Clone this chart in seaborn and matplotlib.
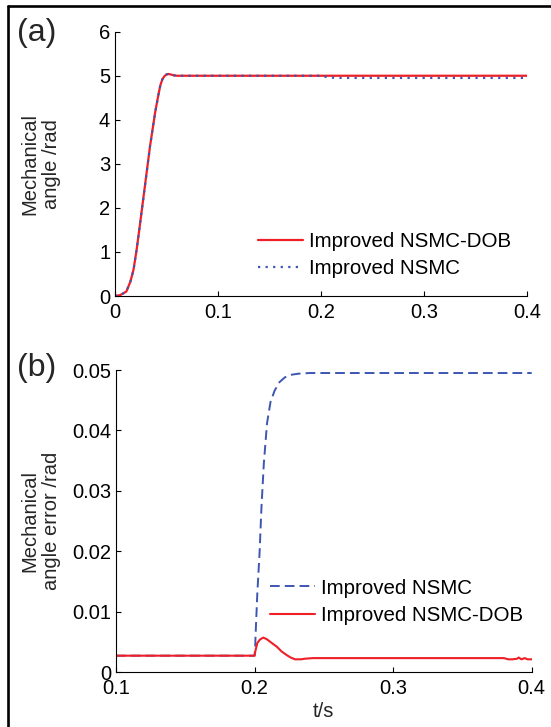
import numpy as np
import pandas as pd
import matplotlib
matplotlib.use("Agg")
import matplotlib.pyplot as plt
from matplotlib.lines import Line2D
import seaborn as sns

# ---------------- data ----------------
# (a) mechanical angle
t_a = [0.0, 0.005, 0.011, 0.015, 0.018, 0.021, 0.024, 0.029, 0.034, 0.039, 0.042,
       0.044, 0.046, 0.048, 0.050, 0.052, 0.054, 0.057, 0.060, 0.10, 0.20, 0.203,
       0.206, 0.210, 0.215, 0.22, 0.23, 0.30, 0.40]
angle_dob = [0.0, 0.02, 0.10, 0.33, 0.60, 1.05, 1.58, 2.49, 3.40, 4.17, 4.55,
             4.78, 4.92, 4.99, 5.03, 5.04, 5.03, 5.01, 5.00, 5.00, 5.00, 5.00,
             5.00, 5.00, 5.00, 5.00, 5.00, 5.00, 5.00]
angle_nsmc = [0.0, 0.02, 0.10, 0.33, 0.60, 1.05, 1.58, 2.49, 3.40, 4.17, 4.55,
              4.78, 4.92, 4.99, 5.03, 5.04, 5.03, 5.01, 5.00, 5.00, 5.00, 4.985,
              4.966, 4.957, 4.953, 4.951, 4.950, 4.950, 4.950]

# (b) mechanical angle error
t_b_nsmc = [0.10, 0.20, 0.2004, 0.2008, 0.202, 0.2036, 0.205, 0.2067, 0.209,
            0.2115, 0.2145, 0.218, 0.222, 0.226, 0.232, 0.24, 0.30, 0.40]
err_nsmc = [0.0027, 0.0027, 0.0040, 0.0065, 0.0131, 0.0197, 0.0274, 0.0346, 0.0412,
            0.0447, 0.0466, 0.0480, 0.0488, 0.0492, 0.0494, 0.0495, 0.0495, 0.0495]
t_b_dob = [0.10, 0.20, 0.2005, 0.202, 0.204, 0.2064, 0.209, 0.213, 0.216, 0.2195,
           0.2232, 0.226, 0.2292, 0.2335, 0.2363, 0.2422, 0.30, 0.380, 0.383,
           0.386, 0.3895, 0.3906, 0.3926, 0.395, 0.397, 0.40]
err_dob = [0.0027, 0.0027, 0.0034, 0.0048, 0.0054, 0.0057, 0.0054, 0.0047, 0.0042,
           0.0034, 0.0028, 0.0024, 0.0021, 0.0021, 0.0022, 0.0023, 0.0023, 0.0023,
           0.0021, 0.0021, 0.0022, 0.0024, 0.0021, 0.0023, 0.0021, 0.0021]

label_dob = "Improved NSMC-DOB"
label_nsmc = "Improved NSMC"
yticks_a = [0, 1, 2, 3, 4, 5, 6]
xticks_a = [0, 0.1, 0.2, 0.3, 0.4]
xtick_labels_a = ["0", "0.1", "0.2", "0.3", "0.4"]
yticks_b = [0, 0.01, 0.02, 0.03, 0.04, 0.05]
ytick_labels_b = ["0", "0.01", "0.02", "0.03", "0.04", "0.05"]
xticks_b = [0.1, 0.2, 0.3, 0.4]
xtick_labels_b = ["0.1", "0.2", "0.3", "0.4"]

RED = "#ee1f26"
BLUE = "#3d56b2"

# ---------------- style ----------------
sns.set_theme(style="ticks")
plt.rcParams["font.family"] = ["Liberation Sans", "DejaVu Sans"]
plt.rcParams["axes.linewidth"] = 0.8
plt.rcParams["axes.edgecolor"] = "black"

W, H = 551, 727
fig = plt.figure(figsize=(W / 100, H / 100), dpi=100)

def frac_axes(l, r, t, b):
    return fig.add_axes([l / W, 1 - b / H, (r - l) / W, (b - t) / H])

ax1 = frac_axes(115, 527, 31.7, 296)
ax2 = frac_axes(116, 531.7, 370, 672)

df_a_dob = pd.DataFrame({"t": t_a, "v": angle_dob})
df_a_nsmc = pd.DataFrame({"t": t_a, "v": angle_nsmc})
sns.lineplot(data=df_a_dob, x="t", y="v", ax=ax1, color=RED, lw=1.6,
             label=label_dob, estimator=None, sort=False)
sns.lineplot(data=df_a_nsmc, x="t", y="v", ax=ax1, color=BLUE, lw=1.6,
             label=label_nsmc, estimator=None, sort=False)
ax1.lines[1].set_linestyle((0, (1, 2.4)))

df_b_nsmc = pd.DataFrame({"t": t_b_nsmc, "v": err_nsmc})
df_b_dob = pd.DataFrame({"t": t_b_dob, "v": err_dob})
sns.lineplot(data=df_b_nsmc, x="t", y="v", ax=ax2, color=BLUE, lw=1.4,
             label=label_nsmc, estimator=None, sort=False)
sns.lineplot(data=df_b_dob, x="t", y="v", ax=ax2, color=RED, lw=1.5,
             label=label_dob, estimator=None, sort=False)
ax2.lines[0].set_linestyle((0, (5, 2.6)))

FS = 14.5
for ax in (ax1, ax2):
    sns.despine(ax=ax)
    ax.tick_params(direction="in", length=3.5, width=0.8, labelsize=FS,
                   colors="black")
    ax.tick_params(axis="x", pad=5)
    ax.tick_params(axis="y", pad=3.5)
    ax.set_facecolor("white")

ax1.set_xlim(0, 0.4)
ax1.set_ylim(0, 6)
ax1.set_yticks(yticks_a)
ax1.set_xticks(xticks_a)
ax1.set_xticklabels(xtick_labels_a)
ax1.set_xlabel("")
ax1.set_ylabel("Mechanical\nangle /rad", fontsize=FS, linespacing=1.15)
ax1.yaxis.set_label_coords((61 - 115) / 412, 0.5)

ax2.set_xlim(0.1, 0.4)
ax2.set_ylim(0, 0.05)
ax2.set_yticks(yticks_b)
ax2.set_yticklabels(ytick_labels_b)
ax2.set_xticks(xticks_b)
ax2.set_xticklabels(xtick_labels_b)
ax2.set_xlabel("t/s", fontsize=FS, labelpad=3)
ax2.set_ylabel("Mechanical\nangle error /rad", fontsize=FS, linespacing=1.15)
ax2.yaxis.set_label_coords((61 - 116) / 415.7, 0.5)

LFS = 14.8
leg1 = ax1.legend(loc="center left", bbox_to_anchor=((258 - 115) / 412, (296 - 255) / 264.3),
                  frameon=False, fontsize=LFS, handlelength=2.2, handletextpad=0.3,
                  labelspacing=0.38, borderpad=0, borderaxespad=0)
leg2 = ax2.legend(loc="center left", bbox_to_anchor=((270 - 116) / 415.7, (672 - 602) / 302),
                  frameon=False, fontsize=LFS, handlelength=2.2, handletextpad=0.3,
                  labelspacing=0.42, borderpad=0, borderaxespad=0)
for t in leg1.get_texts() + leg2.get_texts():
    t.set_color("black")

fig.text(37 / W, 1 - 33 / H, "(a)", fontsize=23, ha="center", va="center")
fig.text(37 / W, 1 - 368 / H, "(b)", fontsize=23, ha="center", va="center")

# outer frame (left and top edges visible)
fig.add_artist(Line2D([8 / W, 8 / W], [0, 1 - 6 / H], color="black", lw=1.9,
                      transform=fig.transFigure))
fig.add_artist(Line2D([8 / W, 1], [1 - 6 / H, 1 - 6 / H], color="black", lw=1.9,
                      transform=fig.transFigure))

fig.savefig("out.png", dpi=100, facecolor="white")
